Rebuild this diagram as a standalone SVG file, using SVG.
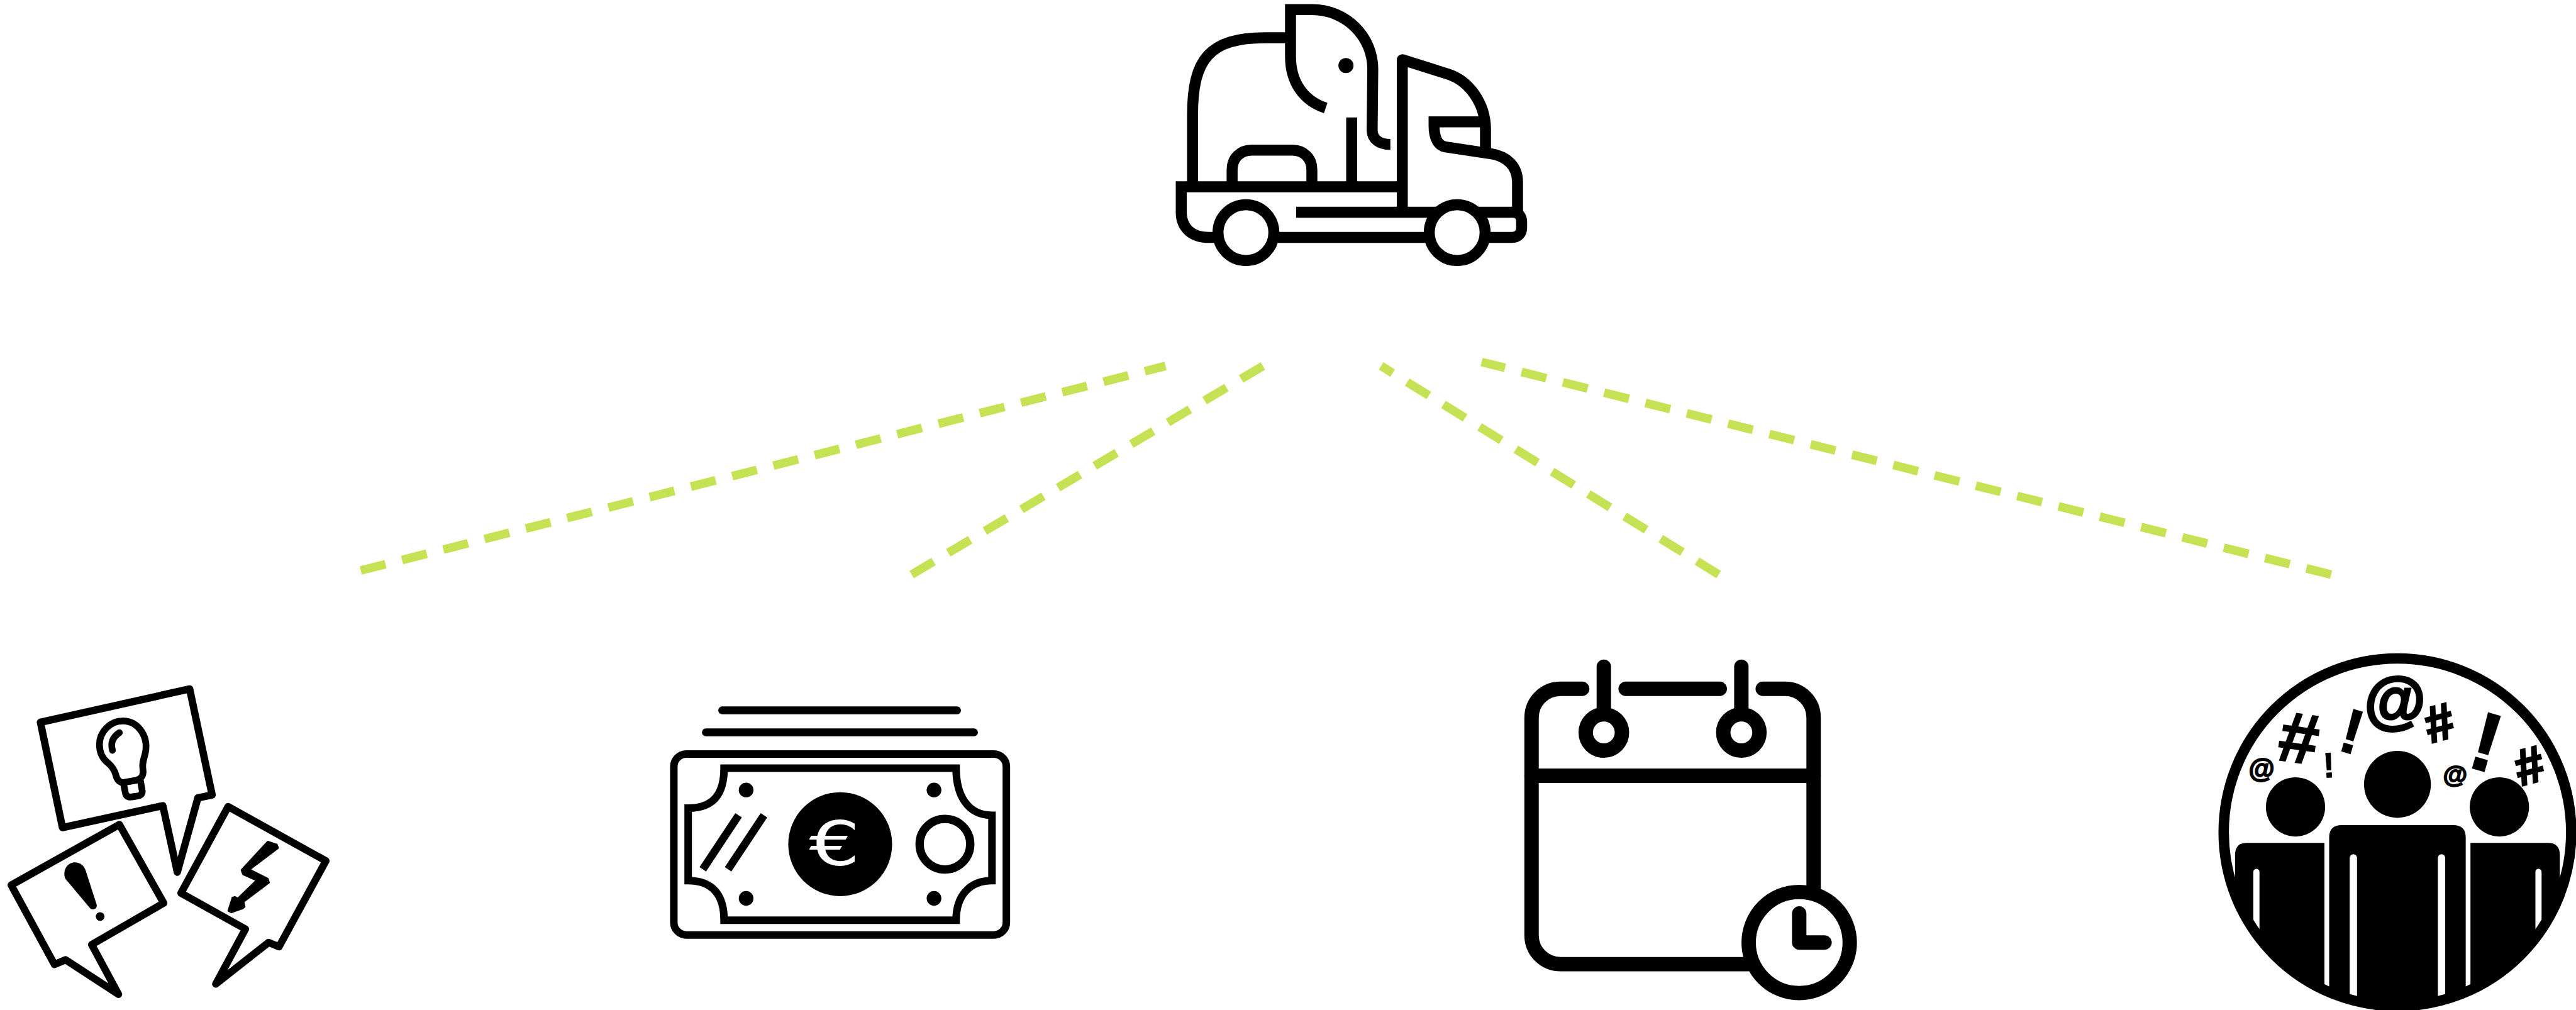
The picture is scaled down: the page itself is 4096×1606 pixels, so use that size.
<svg xmlns="http://www.w3.org/2000/svg" width="4096" height="1606" viewBox="0 0 4096 1606">
<style>
.s{fill:none;stroke:#000;stroke-linejoin:miter;stroke-linecap:butt}
.r{fill:none;stroke:#000;stroke-linejoin:round;stroke-linecap:round}
.k{fill:#000}
.w{fill:#fff}
.d{fill:none;stroke:#c5e254;stroke-width:13.8;stroke-dasharray:40.6 27.2}
.sym{font-family:"Liberation Sans",Arial,sans-serif;font-weight:700;fill:#000;stroke:#000;text-anchor:middle}
</style>
<defs>
<clipPath id="crowdClip"><circle cx="815" cy="808" r="733"/></clipPath>
</defs>
<rect width="4096" height="1606" fill="#fff"/>
<g transform="scale(0.99854,0.99876)">
<g id="connectors">
<path class="d" d="M574.5,908.3L1856,582.7"/>
<path class="d" d="M1451.7,914.7L2011,582.7"/>
<path class="d" d="M2736.8,914.7L2199.3,582.7"/>
<path class="d" d="M3712,914.7L2359.3,576.3"/>
</g>
<g id="node-truck">
<g class="s" stroke-width="17.5">
<path d="M1899,297V183C1899,95 1925,60 2015,60H2047"/>
<path d="M2111,172C2075,160 2055,130 2055,90V15.3H2089C2143,15 2186,58 2186,110L2185,207C2185,222 2197,230 2214,230"/>
<path d="M2152.4,187V297"/>
<path d="M1962,297V270C1962,252 1975,239 1993,239H2058C2076,239 2089,252 2089,270V297"/>
<path d="M2233,297.3H1881V338C1881,362 1897,378 1925,378H2408C2417,378 2423,372 2423,363V353C2423,345 2418,338 2410,338H2064"/>
<path stroke-linejoin="round" d="M2233,338V95L2306,118C2340,129 2365,165 2365.5,205V237"/>
<path d="M2365,194H2283.6V200C2283.6,220 2290,232 2302,234L2375,245C2400,249 2416.5,265 2416.5,290V338"/>
<circle cx="1984" cy="370.3" r="44.5" fill="#fff"/>
<circle cx="2320.4" cy="370.3" r="44.5" fill="#fff"/>
</g>
<circle class="k" cx="2143.3" cy="104.3" r="12"/>
</g>
<g id="node-bubbles" transform="translate(0,1070) scale(0.34435)">
<g class="r" stroke-width="34">
<path d="M187,232L877,78L981,568L915,582L820,925L753,618L289,719Z"/>
<path d="M52,985L552,705L757,1068L424,1260L548,1490L303,1330L252,1352Z"/>
<path d="M1055,622L1507,873L1290,1270L1242,1250L998,1442L1135,1188L837,1022Z"/>
<g stroke-width="31">
<path d="M575,510L630,500C655,495 665,475 661,450C657,425 662,410 668,390C680,350 678,310 655,275C635,245 605,226 568,226C510,226 460,275 460,335C460,370 475,400 497,418C515,433 530,450 537,480C542,500 555,513 575,510Z"/>
<path d="M572,520L580,560C583,575 595,580 610,577L640,572C655,569 660,558 657,545L650,505"/>
<path d="M520,362C510,325 522,300 552,280"/>
</g>
</g>
<path class="k" d="M300,950C290,905 320,880 345,880C370,880 390,895 397,920L447,1075C452,1095 425,1105 415,1090L310,965C305,960 302,955 300,950Z"/>
<circle class="k" cx="463" cy="1130" r="20"/>
<path class="k" stroke="#000" stroke-width="8" stroke-linejoin="round" d="M1238,784L1280,798L1286,813L1154,913L1238,955L1244,973L1126,1062L1131,1085L1123,1092L1070,1111L1056,1104L1075,1043L1087,1040L1100,1047L1186,963L1124,935L1117,915Z"/>
</g>
<g id="node-money">
<g class="r" stroke-width="12.5">
<path d="M1150,1131H1524"/>
<path d="M1124,1166H1551"/>
</g>
<rect class="s" stroke-width="12" x="1073" y="1200.5" width="529.5" height="288" rx="20" ry="20"/>
<path class="s" stroke-width="12" d="M1153,1223H1522.5C1522.5,1265 1540,1298 1579.6,1298V1402C1545,1402 1522.5,1425 1522.5,1465H1153C1153,1425 1135,1402 1095.8,1402V1286.7C1135,1286.7 1153,1265 1153,1223Z"/>
<circle class="k" cx="1188.1" cy="1257.7" r="11.7"/>
<circle class="k" cx="1487.3" cy="1257.7" r="11.7"/>
<circle class="k" cx="1188.1" cy="1430.3" r="11.7"/>
<circle class="k" cx="1487.3" cy="1430.3" r="11.7"/>
<circle class="k" cx="1337.9" cy="1344" r="82.7"/>
<circle class="s" stroke-width="13.3" cx="1504.7" cy="1344" r="40.3"/>
<path class="s" stroke-width="12.5" d="M1176.1,1298L1119.1,1384M1216.5,1298L1159.4,1384"/>
<text transform="translate(1329,1378) scale(1.3,1)" font-family="'DejaVu Sans',sans-serif" font-size="98" text-anchor="middle" fill="#fff">€</text>
</g>
<g id="node-calendar" transform="translate(2400,1030) scale(0.36996)">
<g class="r" stroke-width="62">
<path d="M323,180H230C160,180 105,235 105,305V1240C105,1310 160,1365 230,1365H1060"/>
<path d="M1100,180H1195C1265,180 1319,235 1319,305V1060"/>
<path d="M510,180H915"/>
<path d="M105,554H1319"/>
<path d="M416,85V280"/>
<path d="M1008,85V280"/>
<circle cx="416" cy="368" r="78"/>
<circle cx="1008" cy="368" r="78"/>
<circle cx="1257" cy="1272" r="217.5" fill="#fff"/>
<path d="M1257,1147V1272H1366"/>
</g>
</g>
<g id="node-crowd" transform="translate(3510,1020) scale(0.3775)">
<g clip-path="url(#crowdClip)">
<path class="k" d="M507,853H180Q130,853 130,903V1600H507Z"/>
<path class="k" d="M527,830Q527,778 580,778H1050Q1103,778 1103,830V1600H527Z"/>
<path class="k" d="M1123,853H1450Q1500,853 1500,903V1600H1123Z"/>
<g fill="none" stroke="#fff" stroke-linecap="round">
<path stroke-width="26" d="M220,975V1600M1410,975V1600"/>
<path stroke-width="31" d="M629,916V1600M1001,916V1600"/>
</g>
</g>
<circle class="s" stroke-width="44" cx="815" cy="808" r="733"/>
<circle class="k" cx="385" cy="701" r="125"/>
<circle class="k" cx="815" cy="606" r="141"/>
<circle class="k" cx="1245" cy="701" r="125"/>
<g class="sym">
<text transform="translate(805,270)" y="70" font-size="265" stroke-width="10">@</text>
<text transform="translate(242,548)" y="30" font-size="112" stroke-width="5">@</text>
<text transform="translate(1058,572)" y="28" font-size="105" stroke-width="5">@</text>
<text transform="translate(400,407) rotate(8)" y="107" font-size="300" stroke-width="6">#</text>
<text transform="translate(990,343) rotate(-15)" y="77" font-size="215" stroke-width="8">#</text>
<text transform="translate(1370,524) rotate(-15)" y="77" font-size="215" stroke-width="8">#</text>
<text transform="translate(625,380) rotate(16)" y="95" font-size="265" stroke-width="4">!</text>
<text transform="translate(1192,424) rotate(16)" y="125" font-size="350" stroke-width="6">!</text>
<text transform="translate(525,523) rotate(-3)" y="54" font-size="150" stroke-width="2">!</text>
</g>
</g>
</g>
</svg>
